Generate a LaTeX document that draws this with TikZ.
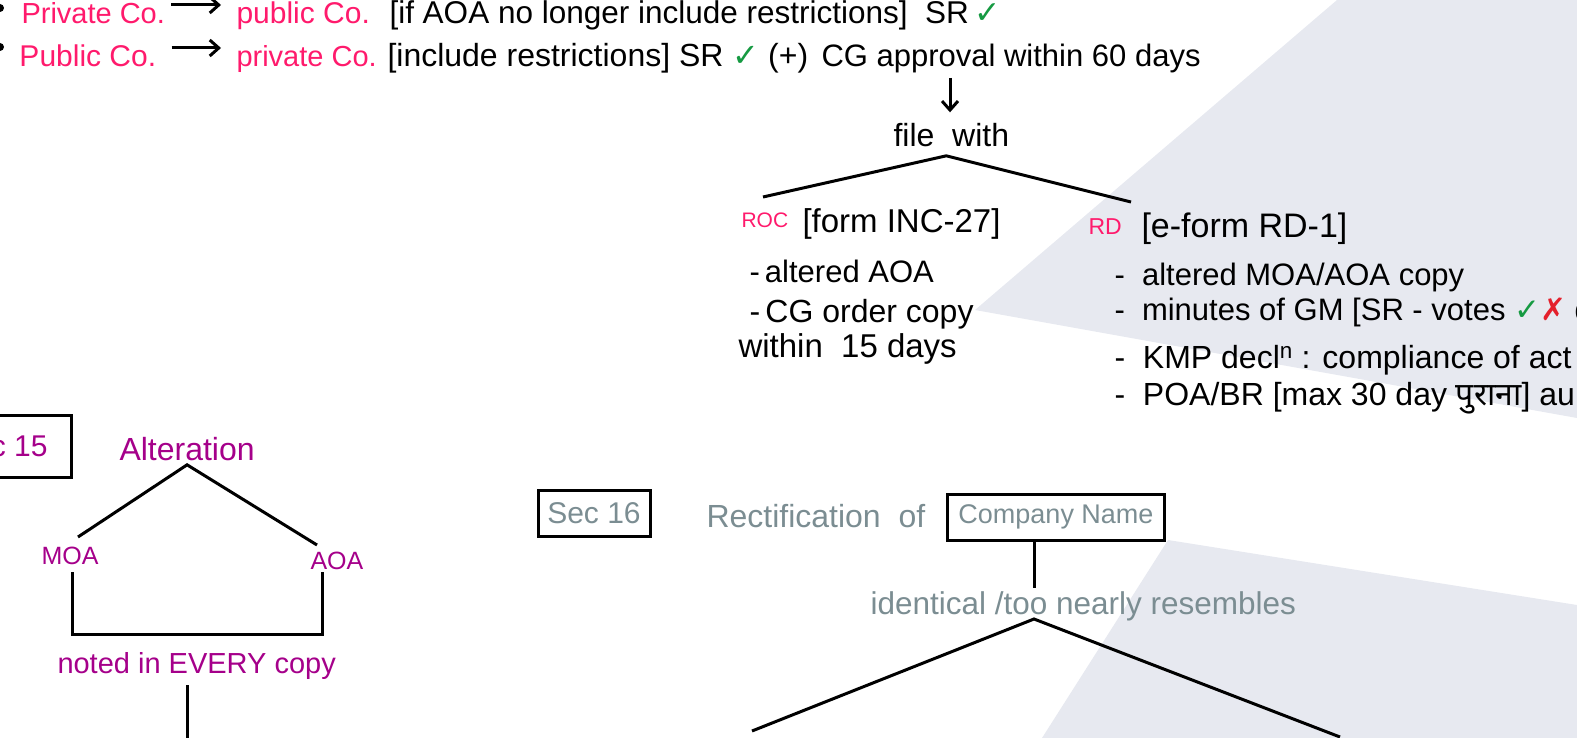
\documentclass[tikz,border=0pt]{standalone}
\usepackage{fontspec}
\setmainfont{Liberation Sans}
\newfontfamily\devfont[Script=Devanagari]{Noto Sans}
\newfontfamily\symfont{DejaVu Sans}
\usetikzlibrary{arrows.meta}
\definecolor{pinkink}{HTML}{FF1A6C}
\definecolor{purpleink}{HTML}{A5008A}
\definecolor{greyink}{HTML}{7B8D92}
\definecolor{tickgreen}{HTML}{169A42}
\definecolor{crossred}{HTML}{E4202C}
\definecolor{paper}{HTML}{E7E9F0}
\newcommand{\tick}{{\symfont\color{tickgreen}✓}}
\newcommand{\cross}{{\symfont\color{crossred}✗}}
\newcommand{\fs}[1]{\fontsize{#1}{#1}\selectfont}

\begin{document}
\begin{tikzpicture}[x=1pt,y=-1pt,line width=3pt,>={Straight Barb[length=9pt,width=16pt]},
  hand/.style={inner sep=0pt,anchor=base west,font=\fs{31}},
  pink text/.style={hand,text=pinkink,font=\fs{30}},
  purple text/.style={hand,text=purpleink},
  grey text/.style={hand,text=greyink},
  box node/.style={draw,line width=3pt,inner sep=0pt}]
  \useasboundingbox (0,0) rectangle (1577,738);
  \clip (0,0) rectangle (1577,738);
  % paper shading
  \fill[paper] (1337,0) -- (1577,0) -- (1577,418) -- (975,310) -- cycle;
  \fill[paper] (1168,540) -- (1577,605) -- (1577,738) -- (1042,738) -- cycle;

  % conversion
  \node[circle,fill,inner sep=0pt,minimum size=8pt] (b1) at (0,8) {};
  \node[circle,fill,inner sep=0pt,minimum size=8pt] (b2) at (0,47) {};
  \node[pink text,font=\fs{29}] (priv1) at (20,24) {Private Co.};
  \node[pink text] (pub1) at (235,24) {public Co.};
  \node[hand,font=\fs{31.5}] (cond1) at (388,24) {[if AOA no longer include restrictions]\ \ SR\,\tick};
  \node[pink text] (pub2) at (18,67) {Public Co.};
  \node[pink text,font=\fs{29}] (priv2) at (235,67) {private Co.};
  \node[hand,font=\fs{32}] (cond2) at (386,67) {[include restrictions]\ SR \tick\ (+)};
  \node[hand] (cg) at (820,67) {CG approval within 60 days};
  \draw[->] ([shift={(5pt,19pt)}]priv1.base east) -- ([shift={(-14pt,19pt)}]pub1.base west);
  \draw[->] ([shift={(14pt,19pt)}]pub2.base east) -- ([shift={(-14pt,19pt)}]priv2.base west);

  \node[hand,font=\fs{32}] (file) at (892,147) {file\ \ with};
  \coordinate (dn) at (950,78);
  \draw[->] (dn) -- ([yshift=10pt]file.north -| dn);
  \coordinate (fl) at (763,197);
  \coordinate (fr) at (1131,202);
  \draw (fl) -- ([shift={(-5pt,-7pt)}]file.south) -- (fr);

  % ROC
  \node[pink text,font=\fs{21}] (roc) at (740,228) {ROC};
  \node[hand,font=\fs{33}] (form1) at (801,233) {[form INC-27]};
  \node[hand] (r1) at (748,282) {-\,altered AOA};
  \node[hand,font=\fs{32}] (r2) at (748,322) {-\,CG order copy};
  \node[hand,font=\fs{33}] (r3) at (737,357) {within\ \ 15 days};

  % RD
  \node[pink text,font=\fs{23}] (rd) at (1087,235) {RD};
  \node[hand,font=\fs{34}] (form2) at (1140,237) {[e-form RD-1]};
  \node[hand] (d1) at (1113,285) {-\ \ altered MOA/AOA copy};
  \node[hand] (d2) at (1113,320) {-\ \ minutes of GM [SR - votes \tick\cross\ d};
  \node[hand,font=\fs{32}] (d3) at (1113,368) {-\ \ KMP decl\textsuperscript{n} : compliance of act};
  \node[hand,font=\fs{32}] (d4) at (1113,405) {-\ \ POA/BR [max 30 day {\devfont पुराना}] au};

  % Sec 15
  \node[box node,text=purpleink,font=\fs{30},inner xsep=24pt,minimum height=62pt,anchor=east] (sec15) at (73,446) {Sec 15};
  \node[purple text,font=\fs{32}] (alt) at (118,460) {Alteration};
  \node[purple text,font=\fs{25}] (moa) at (40,564) {MOA};
  \node[purple text,font=\fs{25}] (aoa) at (309,569) {AOA};
  \coordinate (ml) at (78,537);
  \coordinate (ar) at (317,545);
  \draw (ml) -- ([yshift=-3pt]alt.south) -- (ar);
  \coordinate (mb) at (72,572);
  \coordinate (ab) at (322,572);
  \draw (mb) -- ++(0,62) -| (ab);
  \node[purple text,font=\fs{29}] (noted) at (56,673) {noted in EVERY copy};
  \coordinate (vt) at (187,685);
  \coordinate (vb) at (187,745);
  \draw (vt) -- (vb);

  % Sec 16
  \node[box node,text=greyink,font=\fs{30},minimum width=112pt,minimum height=46pt] (sec16) at (594,513) {Sec 16};
  \node[grey text,font=\fs{32}] (rect) at (705,527) {Rectification\ \ of};
  \node[box node,text=greyink,font=\fs{27},minimum width=217pt,minimum height=46pt] (comp) at (1056,517) {Company Name};
  \node[grey text,font=\fs{31.5}] (ident) at (869,614) {identical /too nearly resembles};
  \coordinate (ka) at (1034,619);
  \coordinate (kt) at (1034,588);
  \draw (comp.south -| ka) -- (kt);
  \coordinate (kl) at (752,731);
  \coordinate (kr) at (1340,737);
  \draw (kl) -- (ka) -- (kr);
\end{tikzpicture}
\end{document}
